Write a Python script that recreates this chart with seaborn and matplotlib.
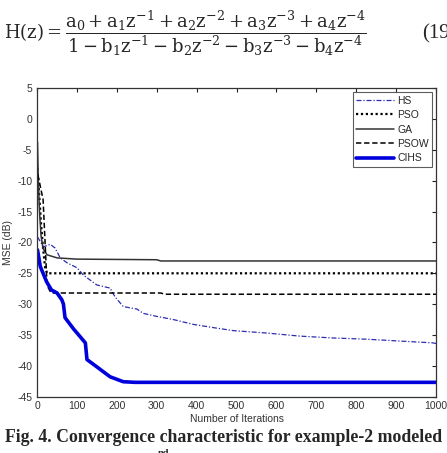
import numpy as np
import pandas as pd
import seaborn as sns
import matplotlib
matplotlib.use("Agg")
import matplotlib.pyplot as plt

# values (iterations, MSE in dB)
hs_x = [1, 16, 33, 45, 58, 75, 100, 116, 150, 183, 195, 216, 250, 266, 300,
        341, 392, 450, 491, 576, 659, 742, 826, 910, 993, 1000]
hs_y = [-19.1, -20.7, -20.3, -20.9, -22.5, -23.3, -24.1, -25.3, -26.9, -27.4,
        -28.8, -30.4, -30.8, -31.5, -32.0, -32.5, -33.3, -33.9, -34.3, -34.7,
        -35.2, -35.5, -35.7, -36.0, -36.3, -36.4]

pso_x = [1, 5, 10, 15, 20, 25, 1000]
pso_y = [-8.0, -12.0, -17.0, -21.0, -24.0, -25.0, -25.0]

ga_x = [1, 3, 6, 10, 15, 25, 50, 100, 300, 310, 1000]
ga_y = [-3.7, -10.0, -15.0, -19.0, -21.0, -22.0, -22.5, -22.7, -22.8, -23.0, -23.0]

psow_x = [2, 10, 15, 20, 25, 35, 310, 320, 1000]
psow_y = [-9.0, -11.5, -13.0, -20.0, -27.0, -28.2, -28.2, -28.4, -28.4]

cihs_x = [1, 8, 24, 36, 50, 62, 66, 70, 91, 108, 121, 125, 150, 183, 216, 246, 1000]
cihs_y = [-21.2, -23.9, -26.4, -27.7, -28.2, -29.3, -30.0, -32.2, -34.0, -35.3,
          -36.3, -39.0, -40.2, -41.8, -42.6, -42.7, -42.7]

x_ticks = list(range(0, 1001, 100))
y_ticks = list(range(-45, 6, 5))

sns.set_style("white")
plt.rcParams['font.family'] = ['Liberation Sans', 'DejaVu Sans']
plt.rcParams['mathtext.fontset'] = 'dejavuserif'
plt.rcParams['axes.unicode_minus'] = False

fig = plt.figure(figsize=(4.47, 4.53), dpi=100)
ax = fig.add_axes([0.083, 0.1247, 0.8924, 0.68])

series = [
    ("HS", hs_x, hs_y, dict(color="#2c2cb4", dashes=(4, 1.5, 1, 1.5), linewidth=0.9)),
    ("PSO", pso_x, pso_y, dict(color="black", dashes=(1, 1.2), linewidth=1.6)),
    ("GA", ga_x, ga_y, dict(color="#333333", linestyle="-", linewidth=1.1)),
    ("PSOW", psow_x, psow_y, dict(color="black", dashes=(3.5, 1.8), linewidth=1.1)),
    ("CIHS", cihs_x, cihs_y, dict(color="#0000dd", linestyle="-", linewidth=2.6)),
]
for name, xs, ys, kw in series:
    sns.lineplot(x=xs, y=ys, ax=ax, label=name, **kw)

ax.set_xlim(0, 1000)
ax.set_ylim(-45, 5)
ax.set_xticks(x_ticks)
ax.set_yticks(y_ticks)
ax.tick_params(direction="in", length=3, labelsize=7.5, colors="#222222",
               top=True, right=True, labelcolor="#333333")
for s in ax.spines.values():
    s.set_color("#333333")
    s.set_linewidth(0.9)
ax.set_xlabel("Number of Iterations", fontsize=7.5, color="#333333", labelpad=2)
ax.set_ylabel("MSE (dB)", fontsize=7.5, color="#333333", labelpad=3)

leg = ax.legend(loc="upper right", fontsize=7.5, frameon=True, fancybox=False,
                handlelength=3.6, handletextpad=0.3, borderpad=0.35,
                labelspacing=0.42, borderaxespad=0.35)
leg.get_frame().set_edgecolor("#333333")
leg.get_frame().set_linewidth(0.8)

# equation above the chart (equation number runs off the right edge)
fig.text(0.008, 0.926,
         r'$\mathrm{H(z)}=\dfrac{\mathrm{a_0+a_1z^{-1}+a_2z^{-2}+a_3z^{-3}+a_4z^{-4}}}'
         r'{\mathrm{1-b_1z^{-1}-b_2z^{-2}-b_3z^{-3}-b_4z^{-4}}}$',
         fontsize=13, ha="left", va="center")
fig.text(0.944, 0.926, "(19)", fontsize=15, ha="left", va="center",
         family="Liberation Serif")

# caption
fig.text(0.5, 0.034, "Fig. 4. Convergence characteristic for example-2 modeled",
         fontsize=12.8, ha="center", va="center", weight="bold",
         family="Liberation Serif")
fig.text(0.352, -0.002, "nd", fontsize=7.5, ha="left", va="center", weight="bold",
         family="Liberation Serif")

fig.savefig("out.png", dpi=100)
